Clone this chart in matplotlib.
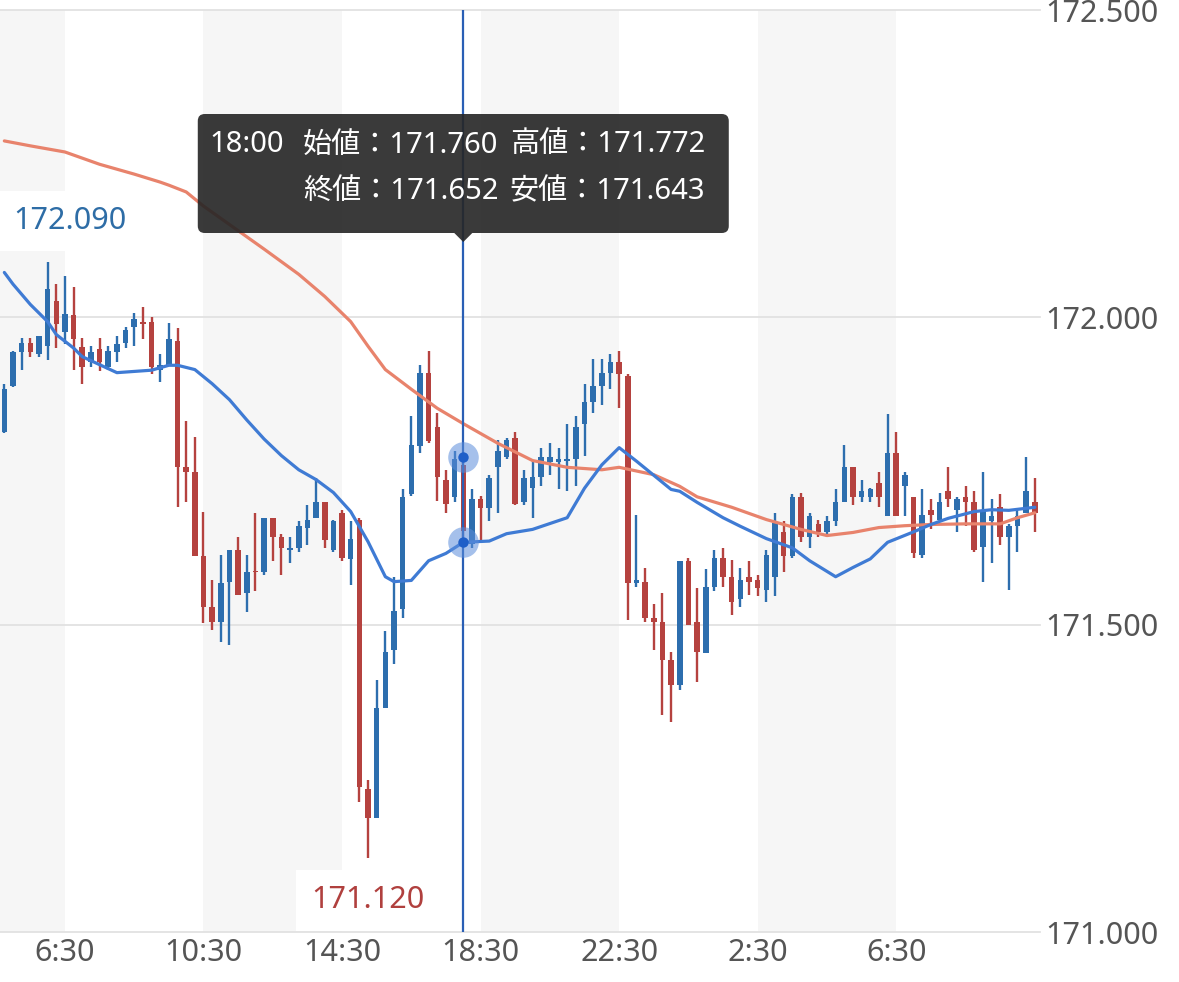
import matplotlib
matplotlib.use("Agg")
import matplotlib.pyplot as plt
from matplotlib.patches import FancyBboxPatch, Polygon
from matplotlib.transforms import IdentityTransform
import numpy as np
import pandas as pd

plt.rcParams['font.family'] = ['Noto Sans', 'Noto Sans CJK JP', 'DejaVu Sans']

# 15分足 (4:45 から)
start_time = "2000-01-01 04:45"
opens = [171.813, 171.888, 171.943, 171.959, 171.940, 171.953, 172.026, 171.976, 172.003, 171.951,
         171.927, 171.948, 171.919, 171.943, 171.959, 171.984, 171.993, 171.992, 171.915, 171.923,
         171.961, 171.756, 171.749, 171.611, 171.528, 171.505, 171.570, 171.622, 171.552, 171.586,
         171.585, 171.674, 171.643, 171.622, 171.625, 171.658, 171.674, 171.699, 171.622, 171.681,
         171.607, 171.671, 171.233, 171.186, 171.365, 171.458, 171.526, 171.713, 171.790, 171.910,
         171.821, 171.736, 171.708, 171.760, 171.632, 171.705, 171.689, 171.756, 171.772, 171.803,
         171.700, 171.722, 171.741, 171.764, 171.764, 171.767, 171.770, 171.826, 171.863, 171.888,
         171.910, 171.927, 171.904, 171.567, 171.570, 171.511, 171.505, 171.443, 171.402, 171.603,
         171.505, 171.454, 171.562, 171.609, 171.577, 171.541, 171.577, 171.573, 171.557, 171.578,
         171.651, 171.611, 171.707, 171.643, 171.663, 171.651, 171.668, 171.700, 171.756, 171.708,
         171.708, 171.731, 171.676, 171.780, 171.725, 171.707, 171.614, 171.687, 171.671, 171.717,
         171.687, 171.707, 171.700, 171.627, 171.668, 171.691, 171.643, 171.660, 171.682, 171.700]
highs = [171.891, 171.946, 171.966, 171.967, 171.969, 172.090, 172.054, 172.068, 172.050, 171.967,
         171.953, 171.966, 171.953, 171.969, 171.985, 172.007, 172.016, 172.000, 171.940, 171.990,
         171.982, 171.832, 171.806, 171.684, 171.573, 171.614, 171.622, 171.642, 171.614, 171.682,
         171.674, 171.674, 171.647, 171.642, 171.668, 171.694, 171.739, 171.700, 171.671, 171.686,
         171.669, 171.674, 171.248, 171.410, 171.489, 171.577, 171.721, 171.840, 171.922, 171.946,
         171.844, 171.752, 171.783, 171.772, 171.721, 171.710, 171.744, 171.801, 171.803, 171.814,
         171.752, 171.767, 171.787, 171.795, 171.787, 171.826, 171.840, 171.891, 171.933, 171.933,
         171.941, 171.946, 171.907, 171.679, 171.593, 171.533, 171.552, 171.456, 171.603, 171.609,
         171.560, 171.590, 171.622, 171.625, 171.606, 171.593, 171.603, 171.581, 171.622, 171.682,
         171.668, 171.712, 171.715, 171.682, 171.671, 171.676, 171.720, 171.793, 171.757, 171.736,
         171.723, 171.748, 171.842, 171.814, 171.748, 171.707, 171.720, 171.704, 171.715, 171.757,
         171.707, 171.725, 171.717, 171.749, 171.704, 171.712, 171.663, 171.687, 171.772, 171.739]
lows = [171.812, 171.887, 171.914, 171.936, 171.935, 171.930, 171.950, 171.956, 171.915, 171.891,
        171.920, 171.912, 171.915, 171.927, 171.950, 171.953, 171.964, 171.907, 171.894, 171.923,
        171.692, 171.699, 171.611, 171.503, 171.492, 171.472, 171.467, 171.549, 171.520, 171.554,
        171.581, 171.603, 171.581, 171.601, 171.619, 171.630, 171.674, 171.625, 171.619, 171.604,
        171.565, 171.212, 171.120, 171.186, 171.365, 171.436, 171.511, 171.710, 171.779, 171.795,
        171.702, 171.682, 171.700, 171.643, 171.624, 171.638, 171.669, 171.682, 171.770, 171.694,
        171.694, 171.674, 171.725, 171.744, 171.720, 171.717, 171.725, 171.775, 171.844, 171.857,
        171.884, 171.853, 171.508, 171.562, 171.505, 171.459, 171.353, 171.342, 171.394, 171.500,
        171.407, 171.454, 171.554, 171.562, 171.516, 171.529, 171.549, 171.546, 171.537, 171.546,
        171.585, 171.609, 171.635, 171.625, 171.642, 171.642, 171.660, 171.700, 171.695, 171.700,
        171.700, 171.691, 171.676, 171.676, 171.676, 171.609, 171.609, 171.655, 171.668, 171.692,
        171.650, 171.660, 171.619, 171.570, 171.601, 171.630, 171.557, 171.619, 171.682, 171.650]
closes = [171.884, 171.943, 171.958, 171.943, 171.969, 172.046, 171.989, 172.005, 171.964, 171.920,
          171.943, 171.927, 171.945, 171.956, 171.980, 171.998, 171.989, 171.919, 171.923, 171.964,
          171.756, 171.749, 171.612, 171.528, 171.505, 171.568, 171.621, 171.549, 171.585, 171.585,
          171.673, 171.643, 171.624, 171.625, 171.660, 171.671, 171.700, 171.638, 171.668, 171.609,
          171.640, 171.236, 171.186, 171.365, 171.456, 171.523, 171.708, 171.792, 171.910, 171.798,
          171.741, 171.697, 171.770, 171.652, 171.705, 171.689, 171.739, 171.783, 171.801, 171.697,
          171.739, 171.741, 171.772, 171.772, 171.770, 171.770, 171.822, 171.863, 171.888, 171.910,
          171.927, 171.907, 171.568, 171.573, 171.511, 171.505, 171.443, 171.402, 171.603, 171.500,
          171.456, 171.562, 171.609, 171.578, 171.537, 171.573, 171.570, 171.560, 171.614, 171.666,
          171.611, 171.708, 171.642, 171.676, 171.650, 171.668, 171.699, 171.756, 171.708, 171.717,
          171.720, 171.707, 171.780, 171.676, 171.744, 171.617, 171.679, 171.679, 171.699, 171.704,
          171.704, 171.700, 171.622, 171.687, 171.676, 171.643, 171.660, 171.676, 171.717, 171.682]

# 移動平均線 (読み取り値, 足の番号と値)
ma_short_pos = [0, 1, 3, 5, 6, 8, 9, 11, 13, 15, 17, 19, 20, 22, 24, 26, 28, 30, 32, 34, 36, 38, 40,
                42, 44, 45, 47, 49, 51, 53, 56, 58, 61, 65, 67, 69, 71, 73, 77, 78, 80, 83, 85, 88,
                91, 93, 96, 98, 100, 102, 105, 107, 109, 112, 114, 116, 119]
ma_short = [172.073, 172.054, 172.021, 171.993, 171.972, 171.950, 171.936, 171.923, 171.910, 171.912,
            171.914, 171.922, 171.922, 171.915, 171.892, 171.866, 171.833, 171.802, 171.775, 171.752,
            171.736, 171.715, 171.684, 171.635, 171.578, 171.570, 171.572, 171.604, 171.616, 171.634,
            171.636, 171.648, 171.655, 171.674, 171.722, 171.760, 171.788, 171.766, 171.720, 171.717,
            171.699, 171.674, 171.660, 171.640, 171.625, 171.604, 171.578, 171.593, 171.607, 171.634,
            171.651, 171.663, 171.673, 171.684, 171.687, 171.686, 171.691]
ma_long_pos = [0, 3, 7, 11, 15, 18, 19, 21, 23, 26, 30, 34, 37, 40, 42, 44, 47, 50, 53, 57, 61, 65,
               69, 71, 75, 78, 80, 84, 88, 92, 95, 98, 101, 104, 107, 111, 115, 117, 119]
ma_long = [172.287, 172.279, 172.269, 172.249, 172.233, 172.220, 172.215, 172.204, 172.181, 172.151,
           172.111, 172.070, 172.034, 171.993, 171.953, 171.915, 171.883, 171.852, 171.827, 171.795,
           171.767, 171.756, 171.752, 171.756, 171.744, 171.725, 171.708, 171.691, 171.671, 171.655,
           171.645, 171.650, 171.658, 171.661, 171.663, 171.664, 171.664, 171.674, 171.682]

tick_labels = ["6:30", "10:30", "14:30", "18:30", "22:30", "2:30", "6:30"]
y_ticks = [171.0, 171.5, 172.0, 172.5]
hover = "18:00"

UP = '#2d6eae'
DOWN = '#b5423f'
MA_S = '#3f7bd4'
MA_L = '#e8836c'
TXT = '#555555'
W, H = 1179, 982

times = pd.date_range(start_time, periods=len(opens), freq="15min")
labels = [f"{t.hour}:{t.minute:02d}" for t in times]
x = np.arange(len(opens))
o, h, l, c = map(np.array, (opens, highs, lows, closes))

fig = plt.figure(figsize=(W / 100, H / 100), dpi=100)
ax = fig.add_axes([0, 1 - 932 / H, 1040 / W, (932 - 10) / H])
ax.set_xlim(-0.5, len(x) - 0.4)
ax.set_ylim(y_ticks[0], y_ticks[-1])

# 背景の縞 (4時間ごと)
tick_pos = []
k = 0
for i, lab in enumerate(labels):
    if k < len(tick_labels) and lab == tick_labels[k]:
        tick_pos.append(i)
        k += 1
edges = [-0.5] + tick_pos
for a in range(0, len(edges) - 1, 2):
    ax.axvspan(edges[a], edges[a + 1], color='#f6f6f6', lw=0, zorder=0)

for yv in y_ticks:
    ax.axhline(yv, color='#e2e2e2', lw=1.3, zorder=1.5, clip_on=False)

# ローソク足
up = c >= o
cols = np.where(up, UP, DOWN)
ax.vlines(x, l, h, colors=cols, lw=1.7, zorder=3)
body_lo = np.minimum(o, c)
body_h = np.maximum(np.abs(c - o), 0.003)
ax.bar(x, body_h, bottom=body_lo, width=0.64, color=cols, lw=0, zorder=3)

ax.plot(ma_long_pos, ma_long, color=MA_L, lw=2.3, zorder=4, solid_capstyle='round',
        solid_joinstyle='round')
ax.plot(ma_short_pos, ma_short, color=MA_S, lw=2.3, zorder=4, solid_capstyle='round',
        solid_joinstyle='round')

# 高値・安値ラベル
hi_i = int(np.argmax(h))
lo_i = int(np.argmin(l))
box = dict(boxstyle='square,pad=0.5', fc='white', ec='none')
ax.annotate(f"{h[hi_i]:.3f}", (hi_i, h[hi_i]), xytext=(22, 41), textcoords='offset pixels',
            ha='center', va='center', fontsize=22, color='#2e6da6', bbox=box, zorder=2)
ax.annotate(f"{l[lo_i]:.3f}", (lo_i, l[lo_i]), xytext=(0, -42), textcoords='offset pixels',
            ha='center', va='center', fontsize=22, color='#b0403e', bbox=box, zorder=2)

# カーソル
hv = labels.index(hover)
ax.axvline(hv, color='#2a5fb5', lw=1.6, zorder=6)
ma_at = ma_short[ma_short_pos.index(hv)]
for yy in (h[hv], ma_at):
    ax.plot(hv, yy, 'o', ms=22, color='#5b8ddb', alpha=0.55, mec='none', zorder=7)
    ax.plot(hv, yy, 'o', ms=7.5, color='#1f5fc8', mec='none', zorder=8)

ax.set_xticks(tick_pos)
ax.set_xticklabels([labels[p] for p in tick_pos])
ax.set_yticks(y_ticks)
ax.set_yticklabels([f"{v:.3f}" for v in y_ticks])
ax.yaxis.tick_right()
ax.tick_params(axis='both', length=0, colors=TXT, labelsize=22)
ax.tick_params(axis='x', pad=4)
ax.tick_params(axis='y', pad=4)
for s in ax.spines.values():
    s.set_visible(False)

# ツールチップ
cx = ax.transData.transform((hv, 0))[0]
idt = IdentityTransform()
bw, bh, btop = 531, 119, 114
x0 = cx - bw / 2
tip = FancyBboxPatch((x0, H - btop - bh), bw, bh, boxstyle='round,pad=0,rounding_size=7',
                     transform=idt, fc='#262626', ec='none', alpha=0.91, zorder=10)
fig.add_artist(tip)
tri = Polygon([(cx - 9, H - btop - bh), (cx + 9, H - btop - bh), (cx, H - btop - bh - 9)],
              closed=True, transform=idt, fc='#262626', ec='none', alpha=0.91, zorder=10)
fig.add_artist(tri)
rows = [(145, [(12, hover), (105, f"始値：{o[hv]:.3f}"), (312, f"高値：{h[hv]:.3f}")]),
        (192, [(105, f"終値：{c[hv]:.3f}"), (312, f"安値：{l[hv]:.3f}")])]
for yy, parts in rows:
    for dx, s in parts:
        fig.text(x0 + dx, H - yy, s, transform=idt, color='white', fontsize=21,
                 va='center', ha='left', zorder=11)

fig.savefig("out.png", dpi=100)
